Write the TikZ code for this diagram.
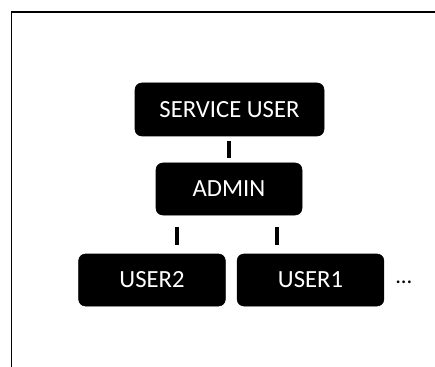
\documentclass[tikz,border=0pt]{standalone}
\usepackage{fontspec}
\setmainfont{Carlito}
\usetikzlibrary{calc}

\tikzset{
  rolebox/.style={draw=black, fill=black, rounded corners=5pt, text=white,
    font=\fontsize{18.5}{22}\selectfont, inner sep=0pt, align=center},
  link/.style={line width=3pt, black}
}

\begin{document}
\begin{tikzpicture}[x=0.75pt,y=0.75pt,yscale=-1,xscale=1]
\useasboundingbox (0,0) rectangle (435,367);
%Shape: Frame
\draw [line width=1pt] (11.5,367) -- (11.5,12) -- (435,12) ;

% Text Node
\node (service) [rolebox, minimum width=141.75pt, minimum height=39.75pt] at (229.5,109.5) {SERVICE USER};
% Text Node
\node (admin) [rolebox, minimum width=109.5pt, minimum height=39pt] at (229,189) {ADMIN};
% Text Node
\node (user2) [rolebox, minimum width=110pt, minimum height=39pt] at (152,280) {USER2};
% Text Node
\node (user1) [rolebox, minimum width=110pt, minimum height=39pt] at (310.5,280) {USER1};
% Text Node
\node (more) [anchor=base west, inner sep=0pt, font=\fontsize{17}{20}\selectfont] at (395,283.5) {...};

%Shape: Lines
\draw [link] ($(service.south -| admin.north)+(0,5)$) -- ($(admin.north)+(0,-5)$) ;
\draw [link] ($(admin.south west)+(21,12)$) -- ($(admin.south west |- user2.north)+(21,-9)$) ;
\draw [link] ($(admin.south west)+(121,12)$) -- ($(admin.south west |- user1.north)+(121,-9)$) ;

\end{tikzpicture}
\end{document}
